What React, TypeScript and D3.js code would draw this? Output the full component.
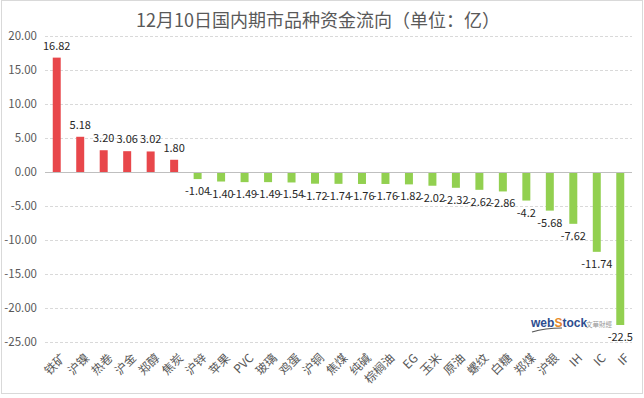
import * as d3 from "d3";

const categories = [
  "铁矿", "沪镍", "热卷", "沪金", "郑醇", "焦炭", "沪锌", "苹果", "PVC", "玻璃",
  "鸡蛋", "沪铜", "焦煤", "纯碱", "棕榈油", "EG", "玉米", "原油", "螺纹", "白糖",
  "郑煤", "沪银", "IH", "IC", "IF",
];
const values = [
  16.82, 5.18, 3.2, 3.06, 3.02, 1.8, -1.04, -1.4, -1.49, -1.49,
  -1.54, -1.72, -1.74, -1.76, -1.76, -1.82, -2.02, -2.32, -2.62, -2.86,
  -4.2, -5.68, -7.62, -11.74, -22.5,
];
const valueLabels = [
  "16.82", "5.18", "3.20", "3.06", "3.02", "1.80", "-1.04", "-1.40", "-1.49", "-1.49",
  "-1.54", "-1.72", "-1.74", "-1.76", "-1.76", "-1.82", "-2.02", "-2.32", "-2.62", "-2.86",
  "-4.2", "-5.68", "-7.62", "-11.74", "-22.5",
];
const yTicks = [20, 15, 10, 5, 0, -5, -10, -15, -20, -25];

const W = 644;
const H = 398;
const M = { top: 36, right: 12, bottom: 56, left: 45 };
const FONT = "'Noto Sans CJK SC', 'Noto Sans', sans-serif";

export default function App() {
  const x = d3
    .scaleBand<string>()
    .domain(categories)
    .range([M.left, W - M.right])
    .paddingInner(0.66)
    .paddingOuter(0.33);
  const y = d3.scaleLinear().domain([-25, 20]).range([342, M.top]);

  const bw = x.bandwidth();

  return (
    <svg
      width={W}
      height={H}
      style={{ position: "absolute", left: 0, top: 0, background: "#fff" }}
      fontFamily={FONT}
    >
      <rect x={1.5} y={0.5} width={641} height={393} fill="#fff" stroke="#d9d9d9" />
      <text x={W / 2 - 4} y={27} textAnchor="middle" fontSize={18} fill="#595959">
        12月10日国内期市品种资金流向（单位：亿）
      </text>

      {yTicks.map((t) => (
        <g key={t}>
          {t !== 0 && (
            <line
              x1={M.left}
              x2={W - M.right}
              y1={Math.round(y(t)) + 0.5}
              y2={Math.round(y(t)) + 0.5}
              stroke="#d9d9d9"
              strokeDasharray="3,2"
            />
          )}
          <text
            x={37}
            y={y(t)}
            dy="0.35em"
            textAnchor="end"
            fontSize={11.5}
            fill="#595959"
          >
            {t.toFixed(2)}
          </text>
        </g>
      ))}

      {values.map((v, i) => {
        const c = categories[i];
        const x0 = x(c)!;
        const top = y(Math.max(0, v));
        const h = Math.abs(y(v) - y(0));
        const cx = x0 + bw / 2;
        return (
          <g key={c}>
            <rect x={x0} y={top} width={bw} height={h} fill={v >= 0 ? "#e8474b" : "#92d050"} />
            <text
              x={cx}
              y={v >= 0 ? y(v) - 8 : y(v) + 16}
              textAnchor="middle"
              fontSize={11}
              fill="#262626"
            >
              {valueLabels[i]}
            </text>
          </g>
        );
      })}

      <line
        x1={M.left}
        x2={W - M.right}
        y1={Math.round(y(0)) + 0.5}
        y2={Math.round(y(0)) + 0.5}
        stroke="#bfbfbf"
      />

      {categories.map((c) => {
        const cx = x(c)! + bw / 2;
        return (
          <text
            key={c}
            transform={`translate(${cx + 3},${352}) rotate(-45)`}
            textAnchor="end"
            dy="0.8em"
            fontSize={12}
            fill="#595959"
          >
            {c}
          </text>
        );
      })}

      {/* watermark */}
      <g fontFamily="'Liberation Sans', sans-serif" fontWeight="bold" fontSize={12}>
        <text x={531} y={327} fill="#2d4d8f">web</text>
        <text x={554.5} y={327} fill="#e8892a">S</text>
        <text x={562.5} y={327} fill="#2d4d8f">tock</text>
      </g>
      <text x={586} y={327} fontSize={6.5} fill="#9a9a9a">文華財經</text>
      <path d="M 532 332 Q 545 328 562 328" fill="none" stroke="#555" strokeWidth={1.2} />
    </svg>
  );
}
